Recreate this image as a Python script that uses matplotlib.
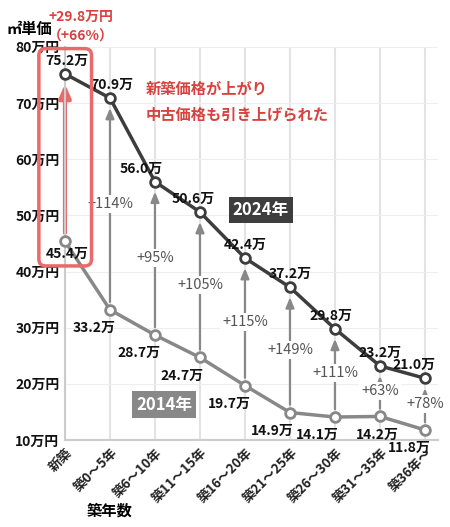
import matplotlib
matplotlib.use("Agg")
import matplotlib.pyplot as plt
from matplotlib.patches import FancyBboxPatch

plt.rcParams['font.family'] = ['Noto Sans CJK JP', 'DejaVu Sans']

categories = ["新築", "築0〜5年", "築6〜10年", "築11〜15年", "築16〜20年", "築21〜25年", "築26〜30年", "築31〜35年", "築36年〜"]
v2024 = [75.2, 70.9, 56.0, 50.6, 42.4, 37.2, 29.8, 23.2, 21.0]
v2014 = [45.4, 33.2, 28.7, 24.7, 19.7, 14.9, 14.1, 14.2, 11.8]
pct = ["", "+114%", "+95%", "+105%", "+115%", "+149%", "+111%", "+63%", "+78%"]
yticks = [10, 20, 30, 40, 50, 60, 70, 80]
ylabels = ["10万円", "20万円", "30万円", "40万円", "50万円", "60万円", "70万円", "80万円"]

dark = "#3d3d3d"
gray = "#888888"
red = "#e86a6a"
redt = "#d9413e"

fig = plt.figure(figsize=(4.5, 5.27), dpi=100)
ax = fig.add_axes([0.1444, 0.165, 0.83, 0.746])
x = list(range(len(categories)))
ax.set_xlim(0, 8.3)
ax.set_ylim(10, 80)
for xi in x:
    ax.axvline(xi, color="#e3e3e3", lw=1.5, zorder=0)
for yt in yticks:
    ax.axhline(yt, color="#eeeeee", lw=0.8, zorder=0)
for s in ["top", "right"]:
    ax.spines[s].set_visible(False)
ax.spines["left"].set_color("#cccccc")
ax.spines["left"].set_linewidth(1.5)
ax.spines["bottom"].set_color("#cccccc")
ax.spines["bottom"].set_linewidth(1.5)
ax.set_yticks(yticks)
ax.set_yticklabels(ylabels, fontsize=10, fontweight="bold", color="#111111")
ax.set_xticks(x)
ax.set_xticklabels(categories, rotation=45, ha="right", rotation_mode="anchor", fontsize=9.5, fontweight="bold", color="#222222")
ax.tick_params(length=0, pad=4)
ax.set_xlabel("築年数", fontsize=11, fontweight="bold")
ax.xaxis.set_label_coords(0.12, -0.16)
fig.text(0.015, 0.935, "㎡単価", fontsize=11, fontweight="bold")

for i in x[1:]:
    ax.annotate("", xy=(i, v2024[i] - 1.3), xytext=(i, v2014[i] + 0.9),
                arrowprops=dict(arrowstyle="-|>,head_width=0.25,head_length=0.6", color=gray, lw=1.6), zorder=2)
    ym = (v2024[i] + v2014[i]) / 2
    ax.text(i, ym, pct[i], ha="center", va="center", fontsize=10.5, color="#555555",
            bbox=dict(fc="white", ec="none", pad=1.5), zorder=3)
ax.annotate("", xy=(0, v2024[0] - 1.3), xytext=(0, v2014[0] + 1),
            arrowprops=dict(arrowstyle="-|>,head_width=0.35,head_length=0.8", color=red, lw=3), zorder=2)

ax.plot(x, v2014, color=gray, lw=2.5, marker="o", ms=7, mfc="white", mec=gray, mew=2, zorder=4, clip_on=False)
ax.plot(x, v2024, color=dark, lw=2.5, marker="o", ms=7, mfc="white", mec=dark, mew=2, zorder=4, clip_on=False)

off24 = [(0.05, 2.3), (0.05, 2.3), (-0.3, 2.3), (-0.15, 2.3), (0, 2.3), (0, 2.3), (-0.1, 2.3), (0, 2.3), (-0.25, 2.3)]
for i in x:
    dx, dy = off24[i]
    ax.text(i + dx, v2024[i] + dy, f"{v2024[i]:.1f}万", ha="center", va="center", fontsize=10, fontweight="bold", color="#111111", zorder=5)
off14 = [(0.05, -2.3), (-0.35, -3.2), (-0.35, -3.2), (-0.4, -3.2), (-0.35, -3.2), (-0.4, -3.2), (-0.4, -3.2), (-0.05, -3.2), (-0.35, -3.2)]
for i in x:
    dx, dy = off14[i]
    ax.text(i + dx, v2014[i] + dy, f"{v2014[i]:.1f}万", ha="center", va="center", fontsize=10, fontweight="bold", color="#111111", zorder=5, clip_on=False)

ax.text(4.35, 51.0, "2024年", ha="center", va="center", fontsize=12, fontweight="bold", color="white",
        bbox=dict(fc=dark, ec="none", pad=3), zorder=5)
ax.text(2.2, 16.3, "2014年", ha="center", va="center", fontsize=12, fontweight="bold", color="white",
        bbox=dict(fc=gray, ec="none", pad=3), zorder=5)
ax.text(1.8, 72.6, "新築価格が上がり", fontsize=11, fontweight="bold", color=redt, va="center")
ax.text(1.8, 67.9, "中古価格も引き上げられた", fontsize=11, fontweight="bold", color=redt, va="center")
ax.text(0.35, 85.4, "+29.8万円", ha="center", va="center", fontsize=10, fontweight="bold", color=redt, clip_on=False)
ax.text(0.35, 81.9, "（+66%）", ha="center", va="center", fontsize=10, fontweight="bold", color=redt, clip_on=False)

box = FancyBboxPatch((-0.58, 41.0), 1.17, 38.7, boxstyle="round,pad=0,rounding_size=0.15",
                     fc="none", ec=red, lw=2.5, zorder=6, clip_on=False, mutation_aspect=8)
ax.add_patch(box)

fig.savefig("out.png", dpi=100)
